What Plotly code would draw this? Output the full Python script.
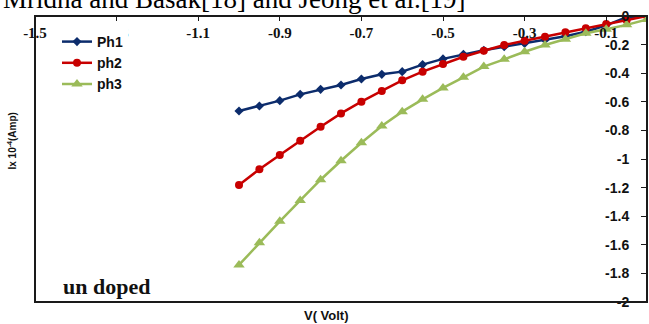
import plotly.graph_objects as go

# ---- data ----
voltage = [-1.00, -0.95, -0.90, -0.85, -0.80, -0.75, -0.70, -0.65, -0.60, -0.55, -0.50,
           -0.45, -0.40, -0.35, -0.30, -0.25, -0.20, -0.15, -0.10, -0.05, 0.00]
ph1 = [-0.664, -0.629, -0.592, -0.548, -0.513, -0.483, -0.441, -0.408, -0.389, -0.340, -0.300,
       -0.268, -0.240, -0.215, -0.192, -0.168, -0.142, -0.110, -0.065, -0.008, 0.000]
ph2 = [-1.182, -1.072, -0.972, -0.872, -0.774, -0.681, -0.599, -0.524, -0.450, -0.389, -0.335,
       -0.285, -0.243, -0.203, -0.173, -0.145, -0.114, -0.086, -0.056, -0.030, 0.000]
ph3 = [-1.741, -1.585, -1.436, -1.290, -1.145, -1.012, -0.886, -0.769, -0.669, -0.583, -0.503,
       -0.429, -0.354, -0.303, -0.250, -0.203, -0.163, -0.121, -0.093, -0.062, -0.025]
series_names = ["Ph1", "ph2", "ph3"]

x_tickvals = [-1.5, -1.3, -1.1, -0.9, -0.7, -0.5, -0.3, -0.1]
x_ticktext = ["-1.5", "-1.3", "-1.1", "-0.9", "-0.7", "-0.5", "-0.3", "-0.1"]
y_tickvals = [0, -0.2, -0.4, -0.6, -0.8, -1.0, -1.2, -1.4, -1.6, -1.8, -2.0]
y_ticktext = ["0", "-0.2", "-0.4", "-0.6", "-0.8", "-1", "-1.2", "-1.4", "-1.6", "-1.8", "-2"]

# ---- layout geometry (pixels) ----
W, H = 649, 324
L, R, T, B = 35, 2, 16, 22
PW, PH = W - L - R, H - T - B


def px(xp):
    return (xp - L) / PW


def py(yp):
    return (H - B - yp) / PH


AXC = "#1a1a1a"

fig = go.Figure()
fig.add_trace(go.Scatter(x=voltage, y=ph1, name=series_names[0], mode="lines+markers",
                         line=dict(color="#0C2C6C", width=2.5),
                         marker=dict(symbol="diamond", size=7, color="#0C2C6C")))
fig.add_trace(go.Scatter(x=voltage, y=ph2, name=series_names[1], mode="lines+markers",
                         line=dict(color="#C80000", width=2.5),
                         marker=dict(symbol="circle", size=8, color="#C80000")))
fig.add_trace(go.Scatter(x=voltage, y=ph3, name=series_names[2], mode="lines+markers",
                         line=dict(color="#9BBB59", width=2.5),
                         marker=dict(symbol="triangle-up", size=10, color="#9BBB59")))

fig.update_layout(
    width=W, height=H,
    margin=dict(l=L, r=R, t=T, b=B, pad=0),
    paper_bgcolor="white", plot_bgcolor="white",
    showlegend=True,
    legend=dict(x=px(57), y=py(26), xanchor="left", yanchor="top",
                bgcolor="white", borderwidth=0,
                font=dict(family="Liberation Sans", size=14, color="#111", weight="bold"),
                tracegroupgap=0),
    # x axis crosses at y = 0 (top of the plot); labels hang below it
    xaxis=dict(range=[-1.5, 0], side="bottom", anchor="free", position=1.0,
               showgrid=False, zeroline=False,
               showline=True, linecolor=AXC, linewidth=2,
               ticks="outside", ticklen=4, tickcolor=AXC,
               tickvals=x_tickvals, ticktext=x_ticktext,
               ticklabelstandoff=-1,
               tickfont=dict(family="Liberation Serif", size=15, color="#111", weight="bold")),
    # y axis crosses at x = 0 (right edge); labels sit left of it
    yaxis=dict(range=[-2, 0], side="left", anchor="free", position=1.0,
               showgrid=False, zeroline=False,
               showline=True, linecolor=AXC, linewidth=2,
               ticks="outside", ticklen=5, tickcolor=AXC,
               tickvals=y_tickvals, ticktext=y_ticktext,
               ticklabelstandoff=9,
               tickfont=dict(family="Liberation Sans", size=14, color="#111", weight="bold")),
    shapes=[dict(type="rect", xref="paper", yref="paper", x0=0, x1=1, y0=0, y1=1,
                 line=dict(color=AXC, width=2), layer="above")],
    annotations=[
        dict(text="Mridha and Basak[18] and Jeong et al.[19]", xref="paper", yref="paper",
             x=px(1), y=py(-0.5), xanchor="left", yanchor="middle", showarrow=False,
             font=dict(family="Liberation Serif", size=27, color="#000")),
        dict(text="<b>Ix 10<sup>-4</sup>(Amp)</b>", xref="paper", yref="paper",
             x=px(11.5), y=py(141), xanchor="center", yanchor="middle", showarrow=False,
             textangle=-90, font=dict(family="Liberation Sans", size=10, color="#111")),
        dict(text="<b>V( Volt)</b>", xref="paper", yref="paper",
             x=px(326), y=py(315), xanchor="center", yanchor="middle", showarrow=False,
             font=dict(family="Liberation Sans", size=13, color="#111")),
        dict(text="<b>un doped</b>", xref="paper", yref="paper",
             x=px(61), y=py(286), xanchor="left", yanchor="middle", showarrow=False,
             font=dict(family="Liberation Serif", size=22, color="#111")),
    ],
)

fig.write_html("out.html")
